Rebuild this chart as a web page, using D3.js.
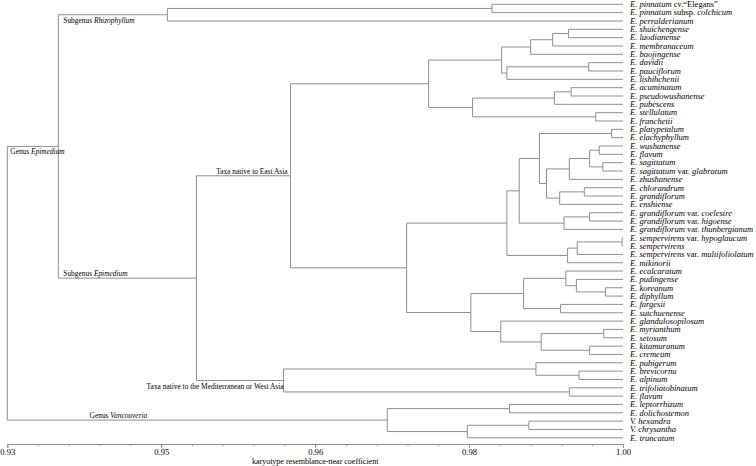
<!DOCTYPE html>
<html>
<head>
<meta charset="utf-8">
<script src="https://cdn.jsdelivr.net/npm/d3@7"></script>
<style>
  body { margin: 0; background: #fff; }
  svg { display: block; }
  text { font-family: "Liberation Serif", "Times New Roman", serif; fill: #000; }
</style>
</head>
<body>
<svg id="chart" width="756" height="466"></svg>
<script>
// ---------------- DATA ----------------
const leafNames = [
  "E. pinnatum cv.“Elegans”",
  "E. pinnatum subsp. colchicum",
  "E. perralderianum",
  "E. shuichengense",
  "E. luodianense",
  "E. membranaceum",
  "E. baojingense",
  "E. davidii",
  "E. pauciflorum",
  "E. lishihchenii",
  "E. acuminatum",
  "E. pseudowushanense",
  "E. pubescens",
  "E. stellulatum",
  "E. franchetii",
  "E. platypetalum",
  "E. elachyphyllum",
  "E. wushanense",
  "E. flavum",
  "E. sagittatum",
  "E. sagittatum var. glabratum",
  "E. zhushanense",
  "E. chlorandrum",
  "E. grandiflorum",
  "E. enshiense",
  "E. grandiflorum var. coelestre",
  "E. grandiflorum var. higoense",
  "E. grandiflorum var. thunbergianum",
  "E. sempervirens var. hypoglaucum",
  "E. sempervirens",
  "E. sempervirens var. multifoliolatum",
  "E. mikinorii",
  "E. ecalcaratum",
  "E. pudingense",
  "E. koreanum",
  "E. diphyllum",
  "E. fargesii",
  "E. sutchuenense",
  "E. glandulosopilosum",
  "E. myrianthum",
  "E. setosum",
  "E. kitamuranum",
  "E. cremeum",
  "E. pubigerum",
  "E. brevicornu",
  "E. alpinum",
  "E. trifoliatobinatum",
  "E. flavum",
  "E. leptorrhizum",
  "E. dolichostemon",
  "V. hexandra",
  "V. chrysantha",
  "E. truncatum"
];

// merges: [childA, childB, coefficient]; numbers = leaf index, "mN" = earlier merge
const merges = [
  [0, 1, 0.9851],        // m0
  ["m0", 2, 0.9482],     // m1
  [3, 4, 0.9938],        // m2
  ["m2", 5, 0.9920],     // m3
  ["m3", 6, 0.9895],     // m4
  [7, 8, 0.9961],        // m5
  ["m5", 9, 0.9868],     // m6
  ["m4", "m6", 0.9862],  // m7
  [10, 11, 0.9941],      // m8
  ["m8", 12, 0.9922],    // m9
  [13, 14, 0.9969],      // m10
  ["m9", "m10", 0.9829], // m11
  ["m7", "m11", 0.9779], // m12
  [15, 16, 0.9987],      // m13
  [17, 18, 0.9973],      // m14
  [19, 20, 0.9977],      // m15
  ["m14", "m15", 0.9962],// m16
  ["m16", 21, 0.9939],   // m17
  [22, 23, 0.9956],      // m18
  ["m18", 24, 0.9928],   // m19
  ["m17", "m19", 0.9913],// m20
  ["m13", "m20", 0.9905],// m21
  [25, 26, 0.9962],      // m22
  ["m22", 27, 0.9933],   // m23
  ["m21", "m23", 0.9882],// m24
  [28, 29, 0.9999],      // m25
  ["m25", 30, 0.9948],   // m26
  ["m26", 31, 0.9937],   // m27
  ["m24", "m27", 0.9868],// m28
  [34, 35, 0.9980],      // m29
  [33, "m29", 0.9947],   // m30
  [32, "m30", 0.9935],   // m31
  [36, 37, 0.9929],      // m32
  ["m31", "m32", 0.9887],// m33
  [39, 40, 0.9978],      // m34
  [41, 42, 0.9962],      // m35
  ["m34", "m35", 0.9907],// m36
  [38, "m36", 0.9861],   // m37
  ["m33", "m37", 0.9827],// m38
  ["m28", "m38", 0.9754],// m39
  ["m12", "m39", 0.9622],// m40 East Asia
  [44, 45, 0.9950],      // m41
  [43, "m41", 0.9901],   // m42
  [46, 47, 0.9939],      // m43
  ["m42", "m43", 0.9614],// m44 Mediterranean
  ["m40", "m44", 0.9515],// m45 Subgenus Epimedium
  ["m1", "m45", 0.9358], // m46 Genus Epimedium
  [48, 49, 0.9871],      // m47
  [50, 51, 0.9893],      // m48
  ["m48", 52, 0.9823],   // m49
  ["m47", "m49", 0.9732],// m50 Vancouveria
  ["m46", "m50", 0.9300] // m51 root
];

// branch labels (merge id + text parts, second item = italic)
const cladeNames = ["m1", "m46", "m45", "m40", "m44", "m50"];
const cladeTexts = [
  [["Subgenus ", false], ["Rhizophyllum", true]],
  [["Genus ", false], ["Epimedium", true]],
  [["Subgenus ", false], ["Epimedium", true]],
  [["Taxa native to East Asia", false]],
  [["Taxa native to the Mediterranean or West Asia", false]],
  [["Genus ", false], ["Vancouveria", true]]
];

const tickValues = [0.93, 0.9475, 0.965, 0.9825, 1.00];
const tickLabels = ["0.93", "0.95", "0.96", "0.98", "1.00"];
const axisTitle = "karyotype resemblance-near coefficient";

// ---------------- BUILD TREE ----------------
function build(ref) {
  if (typeof ref === "number") return { name: leafNames[ref], idx: ref, h: 1.0 };
  const k = +ref.slice(1);
  const m = merges[k];
  return { id: ref, h: m[2], children: [build(m[0]), build(m[1])] };
}
const rootData = build("m" + (merges.length - 1));
const root = d3.hierarchy(rootData);

const svg = d3.select("#chart");
const x = d3.scaleLinear().domain([0.93, 1.00]).range([7.3, 623]);
const yLeaf = d3.scalePoint().domain(d3.range(leafNames.length)).range([4.3, 437.8]);

root.eachAfter(n => {
  n.px = x(n.data.h);
  if (!n.children) n.py = yLeaf(n.data.idx);
  else n.py = d3.mean(n.children, c => c.py);
});

const lineColor = "#8f8f8f";

// links (elbow)
svg.append("g")
  .attr("fill", "none")
  .attr("stroke", lineColor)
  .attr("stroke-width", 1)
  .selectAll("path")
  .data(root.links())
  .join("path")
  .attr("d", d => `M${d.source.px},${d.source.py}V${d.target.py}H${d.target.px}`);

// leaf labels
function parts(name) {
  const out = [];
  const m = name.match(/^(.*?)( cv\.| subsp\. | var\. )(.*)$/);
  if (!m) { out.push([name, true]); return out; }
  out.push([m[1], true]);
  out.push([m[2], false]);
  out.push([m[3], m[2].trim() !== "cv."]);
  return out;
}
const leafG = svg.append("g").attr("font-size", 8.5);
root.leaves().forEach(l => {
  const t = leafG.append("text")
    .attr("x", l.px + 7)
    .attr("y", l.py)
    .attr("dy", "0.33em");
  parts(l.data.name).forEach(p => {
    t.append("tspan").attr("font-style", p[1] ? "italic" : "normal").text(p[0]);
  });
});

// clade labels
const byId = {};
root.each(n => { if (n.data.id) byId[n.data.id] = n; });
const cladeG = svg.append("g").attr("font-size", 7.4);
cladeNames.forEach((id, i) => {
  const n = byId[id];
  let tx, ty, anchor = "start";
  if (id === "m1") { tx = n.parent.px + 5; ty = n.py + 8.5; }
  else if (id === "m46") { tx = n.parent.px + 3; ty = n.py + 8; }
  else if (id === "m45") { tx = n.parent.px + 5; ty = n.py - 2; }
  else if (id === "m40") { tx = n.px - 3; ty = n.py - 2; anchor = "end"; }
  else if (id === "m44") { tx = n.px; ty = n.py + 9; anchor = "end"; }
  else { tx = n.px - 240; ty = n.py - 2; anchor = "end"; }
  const t = cladeG.append("text").attr("x", tx).attr("y", ty).attr("text-anchor", anchor);
  cladeTexts[i].forEach(p => t.append("tspan").attr("font-style", p[1] ? "italic" : "normal").text(p[0]));
});

// axis
const axisY = 444;
const axis = d3.axisBottom(x).tickValues(tickValues).tickFormat((d, i) => tickLabels[i]).tickSize(4).tickPadding(1);
const ag = svg.append("g").attr("transform", `translate(0,${axisY})`).call(axis);
ag.select(".domain").attr("stroke", lineColor);
ag.selectAll(".tick line").attr("stroke", lineColor);
ag.selectAll(".tick text").attr("font-family", "Liberation Serif").attr("font-size", 8.6).attr("fill", "#000");
const minorVals = d3.range(0, 21).map(i => 0.93 + i * 0.0035);
const minor = d3.axisBottom(x).tickValues(minorVals).tickFormat("").tickSize(2).tickSizeOuter(0);
const mg = svg.append("g").attr("transform", `translate(0,${axisY})`).call(minor);
mg.select(".domain").remove();
mg.selectAll(".tick line").attr("stroke", lineColor);

svg.append("text")
  .attr("x", (x.range()[0] + x.range()[1]) / 2)
  .attr("y", 464)
  .attr("text-anchor", "middle")
  .attr("font-size", 8)
  .text(axisTitle);
</script>
</body>
</html>
